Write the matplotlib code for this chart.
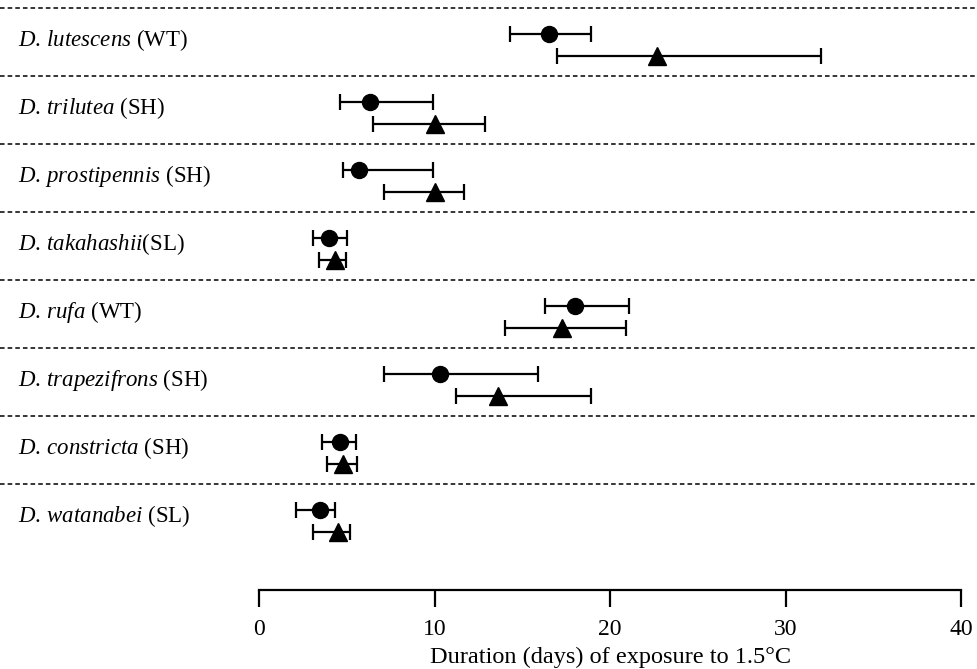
import matplotlib
matplotlib.use("Agg")
import matplotlib.pyplot as plt
import matplotlib.transforms as mtransforms
import numpy as np

# data (days)
species = ["lutescens", "trilutea", "prostipennis", "takahashii",
           "rufa", "trapezifrons", "constricta", "watanabei"]
groups = [" (WT)", " (SH)", " (SH)", "(SL)", " (WT)", " (SH)", " (SH)", " (SL)"]

circle_mean = [16.5, 6.3, 5.7, 4.0, 18.0, 10.3, 4.6, 3.5]
circle_low = [14.3, 4.6, 4.8, 3.1, 16.3, 7.1, 3.6, 2.1]
circle_high = [18.9, 9.9, 9.9, 5.0, 21.1, 15.9, 5.5, 4.35]

tri_mean = [22.7, 10.0, 10.0, 4.35, 17.25, 13.6, 4.8, 4.5]
tri_low = [17.0, 6.5, 7.1, 3.4, 14.0, 11.2, 3.9, 3.1]
tri_high = [32.0, 12.9, 11.7, 4.95, 20.9, 18.9, 5.6, 5.2]

xticks = [0, 10, 20, 30, 40]

plt.rcParams["font.family"] = "Liberation Serif"
plt.rcParams["mathtext.fontset"] = "custom"
plt.rcParams["mathtext.rm"] = "Liberation Serif"
plt.rcParams["mathtext.it"] = "Liberation Serif:italic"

fig = plt.figure(figsize=(9.77, 6.69), dpi=100)
ax = fig.add_axes([259 / 977, 79 / 669, 702 / 977, 590 / 669])

rows = np.arange(len(species))
yc = rows + 0.38
yt = rows + 0.70

cm = np.array(circle_mean)
ax.errorbar(cm, yc, xerr=[cm - np.array(circle_low), np.array(circle_high) - cm],
            fmt="o", color="black", markersize=11.5, elinewidth=1.6,
            capsize=6, capthick=1.6, clip_on=False)
tm = np.array(tri_mean)
ax.errorbar(tm, yt, xerr=[tm - np.array(tri_low), np.array(tri_high) - tm],
            fmt="^", color="black", markersize=12.5, elinewidth=1.6,
            capsize=6, capthick=1.6, clip_on=False)

# dashed separators across the whole width
x0 = -259 / 702
x1 = (977 - 259) / 702
for r in rows:
    ax.axhline(r, xmin=x0, xmax=x1, color="black", lw=1.1,
               linestyle=(0, (3, 2)), clip_on=False)

# row labels
trans = mtransforms.blended_transform_factory(fig.transFigure, ax.transData)
for r, sp, g in zip(rows, species, groups):
    ax.text(18 / 977, r + 0.47, r"$\mathit{D.\," + sp + "}$" + g,
            transform=trans, fontsize=16.5, va="center", ha="left")

ax.set_xlim(0, 40)
ax.set_ylim(7 + 106 / 68, -8 / 68)
ax.set_xticks(xticks)
ax.set_yticks([])
for s in ["top", "right", "left"]:
    ax.spines[s].set_visible(False)
ax.spines["bottom"].set_linewidth(1.6)
ax.tick_params(axis="x", direction="out", length=12, width=1.6,
               labelsize=17, pad=9)
ax.set_xlabel("Duration (days) of exposure to 1.5°C", fontsize=17.5, labelpad=5)
ax.patch.set_visible(False)

fig.savefig("out.png", dpi=100)
